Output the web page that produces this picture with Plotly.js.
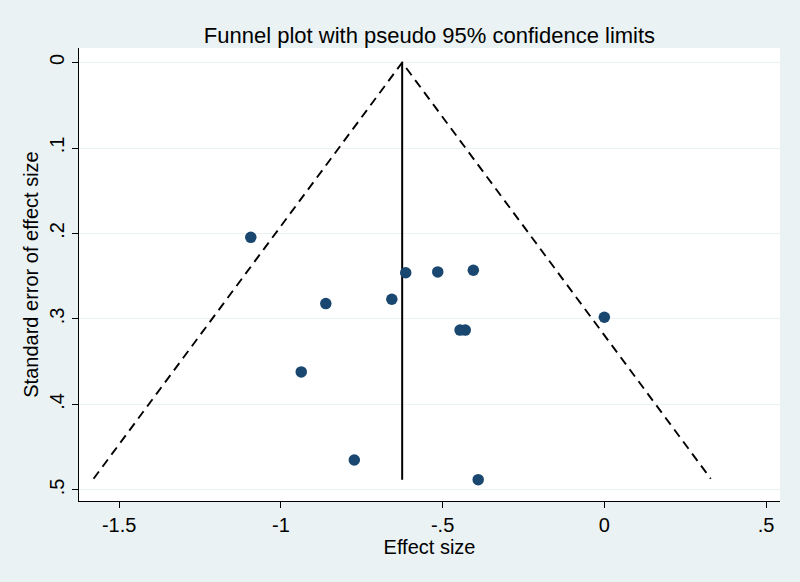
<!DOCTYPE html>
<html>
<head>
<meta charset="utf-8">
<script src="https://cdn.plot.ly/plotly-3.0.1.min.js"></script>
<style>
html,body{margin:0;padding:0;background:#eaf2f3;}
#chart{width:800px;height:582px;}
</style>
</head>
<body>
<div id="chart"></div>
<script>
// Study estimates
const effectSize = [-1.093, -0.861, -0.657, -0.614, -0.515, -0.405, 0.000, -0.446, -0.430, -0.937, -0.773, -0.390];
const stdError   = [0.2045, 0.282, 0.277, 0.246, 0.245, 0.243, 0.298, 0.313, 0.313, 0.362, 0.465, 0.488];

// Pooled estimate line and pseudo 95% confidence limits
const pooledX = [-0.625, -0.625];
const pooledY = [0, 0.488];
const funnelX = [-1.579, -0.625, 0.329];
const funnelY = [0.487, 0, 0.487];

// Tick labels
const xTickVals = [-1.5, -1, -0.5, 0, 0.5];
const xTickText = ['-1.5', '-1', '-.5', '0', '.5'];
const yTickVals = [0, 0.1, 0.2, 0.3, 0.4, 0.5];
const yTickText = ['0', '.1', '.2', '.3', '.4', '.5'];

const FONT = 'Liberation Sans, Arial, sans-serif';

const traces = [
  {
    x: funnelX, y: funnelY, type: 'scatter', mode: 'lines',
    line: {color: '#000000', width: 1.9, dash: '9px,6px'},
    hoverinfo: 'skip', showlegend: false
  },
  {
    x: pooledX, y: pooledY, type: 'scatter', mode: 'lines',
    line: {color: '#000000', width: 2},
    hoverinfo: 'skip', showlegend: false
  },
  {
    x: effectSize, y: stdError, type: 'scatter', mode: 'markers',
    marker: {color: '#1a476f', size: 11.5},
    showlegend: false
  }
];

const layout = {
  width: 800, height: 582,
  paper_bgcolor: '#eaf2f3',
  plot_bgcolor: '#ffffff',
  margin: {l: 79, r: 20, t: 48, b: 81},
  font: {family: FONT, color: '#000000', size: 20},
  title: {
    text: 'Funnel plot with pseudo 95% confidence limits',
    font: {family: FONT, size: 22, color: '#000000'},
    x: 0.5, xref: 'paper', y: 1 - 35/582, yref: 'container', yanchor: 'middle'
  },
  xaxis: {
    range: [-1.624, 0.543],
    tickvals: xTickVals, ticktext: xTickText,
    ticks: 'outside', ticklen: 6, tickwidth: 1, tickcolor: '#000000',
    showline: true, linecolor: '#000000', linewidth: 1,
    showgrid: false, zeroline: false,
    tickfont: {family: FONT, size: 20},
    title: {text: 'Effect size', font: {family: FONT, size: 20}, standoff: 0},
    automargin: false
  },
  yaxis: {
    range: [0.513, -0.017],
    tickvals: yTickVals, ticktext: yTickText,
    tickangle: -90,
    ticks: 'outside', ticklen: 6, tickwidth: 1, tickcolor: '#000000',
    showline: true, linecolor: '#000000', linewidth: 1,
    showgrid: true, gridcolor: '#eaf2f3', gridwidth: 1,
    zeroline: false,
    tickfont: {family: FONT, size: 20},
    title: {text: 'Standard error of effect size', font: {family: FONT, size: 20}, standoff: 2},
    automargin: false
  }
};

Plotly.newPlot('chart', traces, layout, {displayModeBar: false, staticPlot: true});
</script>
</body>
</html>
